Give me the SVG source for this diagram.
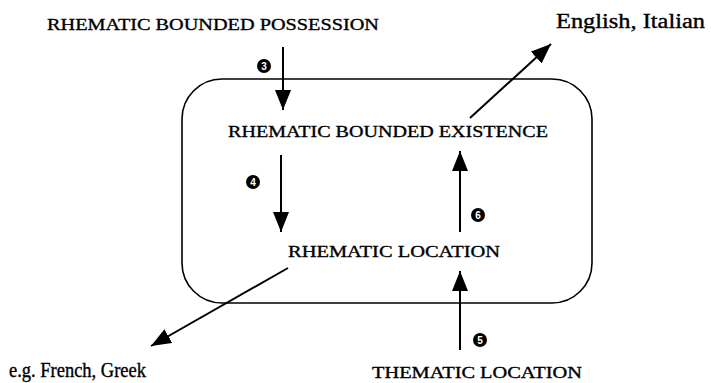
<svg xmlns="http://www.w3.org/2000/svg" width="711" height="383" viewBox="0 0 711 383">
<defs>
<marker id="ah2" viewBox="0 0 20 16" refX="20" refY="8" markerWidth="20" markerHeight="16" markerUnits="userSpaceOnUse" orient="auto">
<path d="M0,0 L20,8 L0,16 Z" fill="#000"/>
</marker>
</defs>
<style>
.cap{font-family:"Liberation Serif","Times New Roman",serif;font-size:17px;fill:#000;stroke:#000;stroke-width:0.35}
.big{font-family:"Liberation Serif","Times New Roman",serif;font-size:20px;fill:#000;stroke:#000;stroke-width:0.35}
.num{font-family:"Liberation Sans",Arial,sans-serif;font-size:10px;font-weight:bold;fill:#fff;text-anchor:middle}
.ln{stroke:#000;stroke-width:2;fill:none}
</style>
<rect width="711" height="383" fill="#fff"/>
<g id="frame"><rect x="182" y="79" width="410" height="224" rx="40" ry="40" fill="none" stroke="#000" stroke-width="1.6"/></g>
<g id="connectors">
<line class="ln" x1="283" y1="47" x2="283" y2="110" marker-end="url(#ah2)"/>
<line class="ln" x1="281" y1="155" x2="281" y2="232" marker-end="url(#ah2)"/>
<line class="ln" x1="460" y1="232" x2="460" y2="151" marker-end="url(#ah2)"/>
<line class="ln" x1="460" y1="350" x2="460" y2="271" marker-end="url(#ah2)"/>
<line class="ln" x1="470" y1="118" x2="551" y2="44" marker-end="url(#ah2)"/>
<line class="ln" x1="288" y1="268" x2="151" y2="346" marker-end="url(#ah2)"/>
</g>
<g id="n-possession"><text class="cap" x="47" y="30" textLength="332" lengthAdjust="spacingAndGlyphs">RHEMATIC BOUNDED POSSESSION</text></g>
<g id="n-english"><text class="big" x="556" y="28" textLength="149" lengthAdjust="spacingAndGlyphs">English, Italian</text></g>
<g id="n-existence"><text class="cap" x="228" y="137" textLength="320" lengthAdjust="spacingAndGlyphs">RHEMATIC BOUNDED EXISTENCE</text></g>
<g id="n-rlocation"><text class="cap" x="288" y="257" textLength="212" lengthAdjust="spacingAndGlyphs">RHEMATIC LOCATION</text></g>
<g id="n-tlocation"><text class="cap" x="372" y="378" textLength="210" lengthAdjust="spacingAndGlyphs">THEMATIC LOCATION</text></g>
<g id="n-french"><text class="big" x="9" y="377" textLength="137" lengthAdjust="spacingAndGlyphs">e.g. French, Greek</text></g>
<g id="labels">
<circle cx="264" cy="66" r="7"/><text class="num" x="264" y="69.5">3</text>
<circle cx="253" cy="182" r="7"/><text class="num" x="253" y="185.5">4</text>
<circle cx="480" cy="340" r="7"/><text class="num" x="480" y="343.5">5</text>
<circle cx="478" cy="215" r="7"/><text class="num" x="478" y="218.5">6</text>
</g>
</svg>
